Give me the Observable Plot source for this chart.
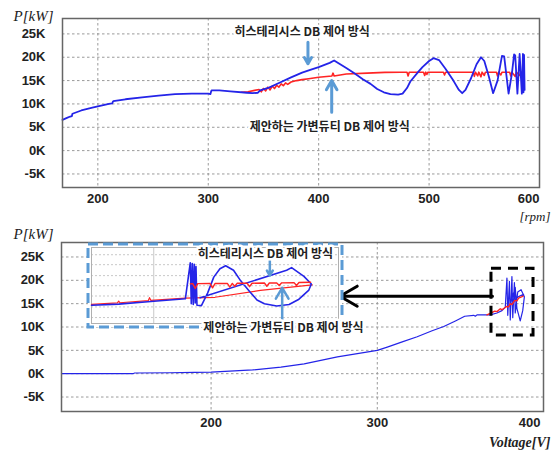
<!DOCTYPE html>
<html><head><meta charset="utf-8">
<script src="https://cdn.jsdelivr.net/npm/d3@7"></script>
<script src="https://cdn.jsdelivr.net/npm/@observablehq/plot@0.6"></script>
<style>
html,body{margin:0;padding:0;background:#fff;}
#wrap{position:relative;width:551px;height:451px;overflow:hidden;background:#fff;}
#wrap svg{display:block;}
#topPanel{position:absolute;left:0;top:0;}
#bottomPanel{position:absolute;left:0;top:220px;}
#insetPanel{position:absolute;left:80px;top:238px;}
</style></head><body>
<div id="wrap"><div id="topPanel"></div><div id="bottomPanel"></div><div id="insetPanel"></div></div>
<script>
// ---------- data: top panel (P [kW, thousands] vs rpm) ----------
const rpmBlue = [168,172,175,176.5,177,185,195,200,210,213,213.5,214,225,240,255,270,285,300,302,302.5,303,310,320,335,340,345,347,355,365,375,385,391,400,410,414,418,425,432,440,447,453,459,465,472,476,480,483,490,494,500,504,509,515,522,527,530,533,538,543,547,550,554,558,562,566,568,572,575,577,578,580,582,584,585,585.5,586,586.5];
const kwBlue  = [6.6,7.0,7.3,7.4,7.9,8.6,9.2,9.5,10.0,10.1,10.4,10.6,11.0,11.4,11.8,12.1,12.2,12.2,12.1,12.6,12.9,12.9,12.7,12.4,12.3,12.4,12.9,13.5,14.6,15.7,16.7,17.2,17.9,18.8,19.3,18.7,17.7,16.6,15.3,14.3,13.2,12.5,12.1,12.0,12.2,13.4,14.8,16.8,17.9,19.2,19.8,19.4,17.5,15.0,13.0,12.3,13.0,15.5,18.5,20.0,19.2,16.0,12.3,15.0,20.3,20.2,12.2,16.5,20.6,20.4,12.2,20.7,12.2,20.7,12.5,20.5,13.0];
const rpmRed  = [330,336,342,346,348,350,352,354,356,358,360,362,364,366,368,370,372,375,380,385,391,400,412,413,414,425,444,460,474,480,481,482,495,496,497,498,499,513,514,515,540,541,542,544,545,547,548,550,551,561,562,563,565,566,573,574,575,578,579,582,583,585];
const kwRed   = [12.5,12.6,12.9,13.1,12.6,13.3,12.8,13.6,13.0,13.8,13.3,14.0,13.6,14.3,13.9,14.5,14.2,14.7,15.0,15.2,15.4,15.7,16.0,16.6,16.0,16.4,16.6,16.75,16.8,16.8,16.0,16.8,16.8,16.1,16.8,16.3,16.8,16.8,16.2,16.8,16.8,15.9,16.8,16.0,16.8,15.8,16.8,16.1,16.8,16.8,16.0,16.8,16.2,16.8,16.8,16.0,16.8,15.9,16.8,16.1,16.8,16.8];

// ---------- data: bottom panel (P vs Voltage) ----------
const voltBlue = [110,153,154,175,190,200,214,225,242,256,276,288,300,306,315,324,333,340,347,352.6,358,359,360,368,372,375,377,378,378.5,379.5,380,381,381.5,382.5,383,384.5,386.5,388.5,387.5,386,384,383,381,379.5,382,385,388];
const kwBlueV  = [0,0,0.15,0.2,0.3,0.35,0.6,0.8,1.4,2.1,3.6,4.3,5.0,5.7,6.8,7.9,9.2,10.1,11.3,12.3,12.5,12.3,12.6,12.6,13.0,13.5,14.2,20.5,12.5,19.8,11.5,20.8,12.0,19.5,13.0,17.5,18.0,16.5,13.5,11.3,14.0,18.5,16.0,14.5,15.5,16.5,17.0];
const voltRed  = [366,370.7,372,374,375,377.7,379,380,381,382.7,384,385,387.8];
const kwRedV   = [12.6,13.4,13.3,13.9,13.7,14.4,14.3,15.0,14.8,15.7,15.6,16.2,16.6];

// ---------- data: inset (normalised 0-100 units) ----------
const insetBlueU = [0,11,24,38,40,40.4,40.8,41.2,41.6,42,42.3,42.7,44.5,47,49.5,52,54.3,57.5,60,64,67,70,75,80,84,88,89,86,81,79,44];
const insetBlueV = [24,25.5,29,32.5,80,26,79,25,78,27,75,24,23.5,40,61,72,76,70,58,42,31,26,23,25,32,44,52,62,73.5,70,34];
const insetRedLoU = [0,10.5,11,11.5,23,23.5,24,38,50,68.4,89.4];
const insetRedLoV = [25.2,27.2,29.5,27.3,30.2,34,30.5,33.4,34.5,43.5,50.9];
const insetRedUpU = [40,41,42,43,48,49,50,55,56,57,58,59,63,64,65,70,71,72,75,76,77,82,83,84,88.7];
const insetRedUpV = [52.2,52.5,46,52.5,52.6,47,52.6,52.8,48,52.8,49,52.9,53,48.5,53,53.3,49,53.3,53.4,50,53.5,53.8,50,53.9,54.3];
const insetGridV = [7.8,21.8,36.2,49.7,63,77.4,90.5];
const insetGridU = [25.2];

// ---------- ticks / labels ----------
const kTicks = [-5,0,5,10,15,20,25];
const rpmTicks = [200,300,400,500,600];
const voltTicks = [200,300,400];
const labelHys = "히스테리시스 DB 제어 방식";
const labelProp = "제안하는 가변듀티 DB 제어 방식";

// annotations
const topTexts = [{x:385,y:25.3,t:labelHys},{x:410,y:5.1,t:labelProp}];
const topArrows = [{x:390.3,y1:23.2,y2:18.6},{x:411.8,y1:8.2,y2:15.0}];
const zoomBox = [{x1:368.7,x2:394,y1:8.2,y2:22.5}];
const zoomArrow = [{x1:369.3,x2:277.5,y:16.6}];
const insetTexts = [{x:70.4,y:91.8,t:labelHys},{x:77.7,y:-6.1,t:labelProp}];
const insetArrows = [{x:72.2,y1:86,y2:63},{x:77.2,y1:-3,y2:47}];

const BLUE = "#2424e8", RED = "#ff2424", ANN = "#5b9bd5";
const zipXY = (xs, ys) => xs.map((x,i)=>({x, y: ys[i]}));

const gridOpts = {stroke:"#9a9a9a", strokeOpacity:1, strokeDasharray:"2.5,2.5"};
const tickText = {tickSize:0, fontSize:13, fontWeight:"bold", fill:"#222", label:null};
const annText = {fontFamily:"'Noto Sans CJK KR', sans-serif", fontWeight:700, fontSize:12, fill:"#222",
                 stroke:"white", strokeWidth:5, paintOrder:"stroke"};
const baseStyle = {fontFamily:"'Liberation Sans', Arial, sans-serif", background:"transparent", overflow:"visible"};

// ---------- top panel ----------
const topChart = Plot.plot({
  width:551, height:220, marginTop:18, marginBottom:33, marginLeft:62, marginRight:12,
  x:{domain:[168,600]}, y:{domain:[-7.9,28.3]},
  style: baseStyle,
  marks:[
    Plot.gridY(kTicks, gridOpts),
    Plot.gridX(rpmTicks.slice(0,-1), gridOpts),
    Plot.line(zipXY(rpmRed,kwRed), {x:"x", y:"y", stroke:RED, strokeWidth:1.6}),
    Plot.line(zipXY(rpmBlue,kwBlue), {x:"x", y:"y", stroke:BLUE, strokeWidth:1.8}),
    Plot.frame({stroke:"#666", strokeWidth:1.5}),
    Plot.axisY(kTicks, {...tickText, tickPadding:17, tickFormat:d=>d+"K"}),
    Plot.axisX(rpmTicks.slice(0,-1), {...tickText, tickPadding:6}),
    Plot.axisX(rpmTicks.slice(-1), {...tickText, tickPadding:6, textAnchor:"end"}),
    Plot.text(topTexts, {x:"x", y:"y", text:"t", ...annText}),
    Plot.arrow(topArrows, {x1:"x", x2:"x", y1:"y1", y2:"y2", stroke:ANN, strokeWidth:3, headLength:9}),
    Plot.text(["P[kW]"], {frameAnchor:"top-left", text:d=>d, textAnchor:"start", lineAnchor:"bottom", dx:-49, dy:2,
      fontFamily:"'Liberation Serif', serif", fontStyle:"italic", fontSize:15, fill:"#222"}),
    Plot.text(["[rpm]"], {frameAnchor:"bottom-right", text:d=>d, textAnchor:"end", lineAnchor:"bottom", dx:11, dy:33,
      fontFamily:"'Liberation Serif', serif", fontStyle:"italic", fontSize:13, fill:"#222"})
  ]
});
document.getElementById("topPanel").append(topChart);

// ---------- bottom panel ----------
const bottomChart = Plot.plot({
  width:551, height:231, marginTop:22, marginBottom:40, marginLeft:61, marginRight:8,
  x:{domain:[110,400]}, y:{domain:[-8.1,28.1]},
  style: baseStyle,
  marks:[
    Plot.gridY(kTicks, gridOpts),
    Plot.gridX(voltTicks.slice(0,-1), gridOpts),
    Plot.line(zipXY(voltBlue,kwBlueV), {x:"x", y:"y", stroke:BLUE, strokeWidth:1.2}),
    Plot.line(zipXY(voltRed,kwRedV), {x:"x", y:"y", stroke:RED, strokeWidth:1.4}),
    Plot.frame({stroke:"#666", strokeWidth:1.5}),
    Plot.axisY(kTicks, {...tickText, tickPadding:17, tickFormat:d=>d+"K"}),
    Plot.axisX(voltTicks.slice(0,-1), {...tickText, tickPadding:6}),
    Plot.axisX(voltTicks.slice(-1), {...tickText, tickPadding:6, textAnchor:"end", dx:-3}),
    Plot.rect(zoomBox, {x1:"x1", x2:"x2", y1:"y1", y2:"y2", fill:"none", stroke:"black", strokeWidth:3, strokeDasharray:"10,7"}),
    Plot.arrow(zoomArrow, {x1:"x1", x2:"x2", y1:"y", y2:"y", stroke:"black", strokeWidth:3, headLength:10}),
    Plot.text(["P[kW]"], {frameAnchor:"top-left", text:d=>d, textAnchor:"start", lineAnchor:"bottom", dx:-48, dy:-4,
      fontFamily:"'Liberation Serif', serif", fontStyle:"italic", fontSize:15, fill:"#222"}),
    Plot.text(["Voltage[V]"], {frameAnchor:"bottom-right", text:d=>d, textAnchor:"end", lineAnchor:"bottom", dx:7, dy:35,
      fontFamily:"'Liberation Serif', serif", fontStyle:"italic", fontWeight:"bold", fontSize:14, fill:"#222"})
  ]
});
document.getElementById("bottomPanel").append(bottomChart);

// ---------- inset ----------
const insetChart = Plot.plot({
  width:290, height:100, marginTop:9, marginBottom:15, marginLeft:11, marginRight:32,
  x:{domain:[0,100], axis:null}, y:{domain:[0,100], axis:null},
  style: baseStyle,
  marks:[
    Plot.frame({fill:"white", stroke:ANN, strokeWidth:3, strokeDasharray:"10,5", inset:-3.5}),
    Plot.ruleY(insetGridV, {stroke:"#c8c8c8", strokeDasharray:"2,2"}),
    Plot.ruleX(insetGridU, {stroke:"#c8c8c8"}),
    Plot.frame({stroke:"#b0b0b0", strokeWidth:1}),
    Plot.line(zipXY(insetRedLoU,insetRedLoV), {x:"x", y:"y", stroke:RED, strokeWidth:1.2}),
    Plot.line(zipXY(insetBlueU,insetBlueV), {x:"x", y:"y", stroke:BLUE, strokeWidth:1.6}),
    Plot.line(zipXY(insetRedUpU,insetRedUpV), {x:"x", y:"y", stroke:RED, strokeWidth:1.4}),
    Plot.arrow(insetArrows, {x1:"x", x2:"x", y1:"y1", y2:"y2", stroke:ANN, strokeWidth:2.5, headLength:8}),
    Plot.text(insetTexts, {x:"x", y:"y", text:"t", ...annText})
  ]
});
document.getElementById("insetPanel").append(insetChart);
</script>
</body></html>
